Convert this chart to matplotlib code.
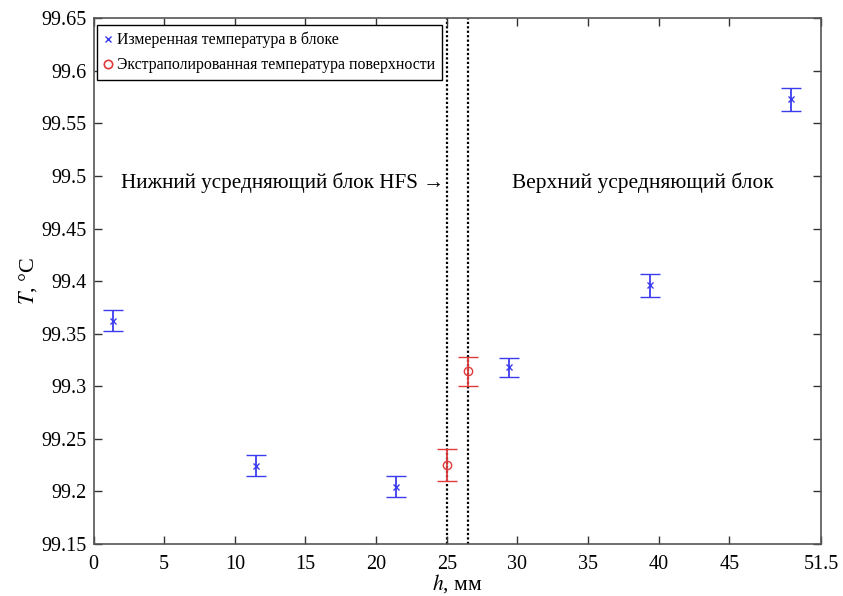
import matplotlib
matplotlib.use("Agg")
import matplotlib.pyplot as plt
from matplotlib.lines import Line2D

plt.rcParams["font.family"] = ["Liberation Serif", "DejaVu Serif"]
plt.rcParams["mathtext.fontset"] = "stix"

# measured block temperatures
h_meas = [1.4, 11.5, 21.4, 29.4, 39.4, 49.4]
t_meas = [99.362, 99.224, 99.204, 99.318, 99.396, 99.573]
err_meas = [0.010, 0.010, 0.010, 0.009, 0.011, 0.011]

# extrapolated surface temperatures
h_surf = [25.0, 26.5]
t_surf = [99.225, 99.314]
err_surf = [0.015, 0.014]

# HFS boundaries
h_bounds = [25.0, 26.5]

xticks = [0, 5, 10, 15, 20, 25, 30, 35, 40, 45, 51.5]
xticklabels = ["0", "5", "10", "15", "20", "25", "30", "35", "40", "45", "51.5"]
yticks = [99.15, 99.2, 99.25, 99.3, 99.35, 99.4, 99.45, 99.5, 99.55, 99.6, 99.65]
yticklabels = ["99.15", "99.2", "99.25", "99.3", "99.35", "99.4", "99.45", "99.5", "99.55", "99.6", "99.65"]

label_meas = "Измеренная температура в блоке"
label_surf = "Экстраполированная температура поверхности"

blue = "#3b3bf0"
red = "#e03a3a"

fig = plt.figure(figsize=(8.43, 5.96), dpi=100)
ax = fig.add_axes([0.111, 0.088, 0.863, 0.881])

for xb in h_bounds:
    ax.axvline(xb, color="black", linestyle=(0, (1, 1)), linewidth=1.6, zorder=1)

ax.errorbar(h_meas, t_meas, yerr=err_meas, fmt="x", color=blue, ecolor=blue,
            markersize=4, markeredgewidth=1.0, elinewidth=1.3, capsize=7, capthick=1.3,
            zorder=3)
ax.errorbar(h_surf, t_surf, yerr=err_surf, fmt="o", color=red, ecolor=red,
            markerfacecolor="none", markersize=6, markeredgewidth=1.0, elinewidth=1.3,
            capsize=7, capthick=1.3, zorder=3)

ax.text(24.85, 99.494, "Нижний усредняющий блок HFS →", fontsize=15.2,
        ha="right", va="center")
ax.text(29.6, 99.494, "Верхний усредняющий блок", fontsize=15.4,
        ha="left", va="center")

ax.set_xlim(0, 51.5)
ax.set_ylim(99.15, 99.65)
ax.set_xticks(xticks)
ax.set_xticklabels(xticklabels)
ax.set_yticks(yticks)
ax.set_yticklabels(yticklabels)
ax.tick_params(direction="in", length=6, width=1, top=True, right=True,
               labelsize=14.5, color="#333333")
ax.tick_params(axis="x", pad=8)
ax.tick_params(axis="y", pad=5)
for sp in ax.spines.values():
    sp.set_color("#555555")
    sp.set_linewidth(1.2)

ax.set_xlabel(r"$\mathit{h}$, мм", fontsize=15.5, labelpad=-1)
ax.set_ylabel(r"$\mathit{T}$, °C", fontsize=16, labelpad=2)

handles = [
    Line2D([], [], linestyle="none", marker="x", color=blue, markersize=4,
           markeredgewidth=1.0),
    Line2D([], [], linestyle="none", marker="o", color=red, markerfacecolor="none",
           markersize=6, markeredgewidth=1.2),
]
leg = ax.legend(handles, [label_meas, label_surf], loc="upper left",
                bbox_to_anchor=(0.005, 0.988), borderaxespad=0, fontsize=11.4,
                handlelength=0.5, handletextpad=0.3, borderpad=0.45,
                labelspacing=0.55, fancybox=False, framealpha=1, edgecolor="black")
leg.get_frame().set_linewidth(1.0)

fig.savefig("out.png", dpi=100)
